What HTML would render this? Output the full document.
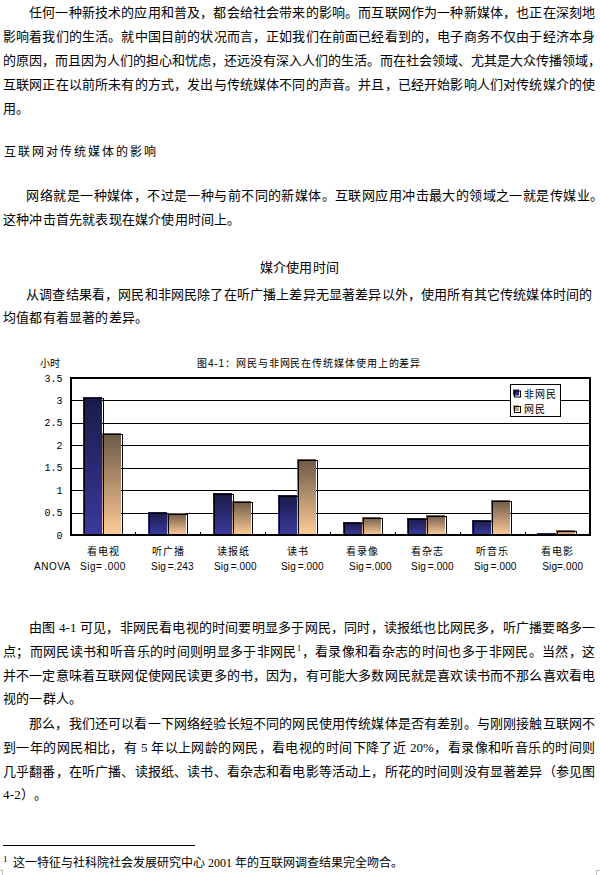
<!DOCTYPE html>
<html lang="zh-CN"><head><meta charset="utf-8"><style>
html,body{margin:0;padding:0;background:#fff;}
body{text-spacing-trim:space-all;width:600px;height:875px;position:relative;overflow:hidden;font-family:"Liberation Serif",serif;color:#000;}
.l{position:absolute;white-space:nowrap;font-size:13px;line-height:24px;font-weight:500;letter-spacing:0.2px;}
.ind{display:inline-block;width:26px;}
sup{font-size:9px;line-height:0;vertical-align:5px;font-weight:normal;}
.chart{position:absolute;left:0;top:0;}
.ct{font-family:"Liberation Sans",sans-serif;font-size:10px;}
.tb{font-weight:bold;}
.yt{font-family:"Liberation Mono",monospace;font-size:10px;}
.st{font-family:"Liberation Sans",sans-serif;font-size:10px;}
</style></head><body>
<svg class="chart" width="600" height="875" viewBox="0 0 600 875">
<defs><linearGradient id="gb" x1="0" y1="0" x2="0" y2="1"><stop offset="0" stop-color="#1a1a48"/><stop offset="1" stop-color="#3a3a9e"/></linearGradient><linearGradient id="gt" x1="0" y1="0" x2="0" y2="1"><stop offset="0" stop-color="#6b5846"/><stop offset="1" stop-color="#ffcc99"/></linearGradient></defs>
<rect x="72" y="513" width="517" height="1" fill="#000"/>
<rect x="72" y="490" width="517" height="1" fill="#000"/>
<rect x="72" y="468" width="517" height="1" fill="#000"/>
<rect x="72" y="445" width="517" height="1" fill="#000"/>
<rect x="72" y="423" width="517" height="1" fill="#000"/>
<rect x="72" y="400" width="517" height="1" fill="#000"/>
<rect x="83" y="397" width="19" height="138" fill="url(#gb)"/>
<rect x="102" y="433" width="19" height="102" fill="url(#gt)"/>
<rect x="148" y="512" width="19" height="23" fill="url(#gb)"/>
<rect x="167" y="513" width="19" height="22" fill="url(#gt)"/>
<rect x="213" y="493" width="19" height="42" fill="url(#gb)"/>
<rect x="232" y="501" width="19" height="34" fill="url(#gt)"/>
<rect x="278" y="495" width="19" height="40" fill="url(#gb)"/>
<rect x="297" y="459" width="19" height="76" fill="url(#gt)"/>
<rect x="343" y="522" width="19" height="13" fill="url(#gb)"/>
<rect x="362" y="517" width="19" height="18" fill="url(#gt)"/>
<rect x="407" y="518" width="19" height="17" fill="url(#gb)"/>
<rect x="426" y="515" width="19" height="20" fill="url(#gt)"/>
<rect x="472" y="520" width="19" height="15" fill="url(#gb)"/>
<rect x="491" y="500" width="19" height="35" fill="url(#gt)"/>
<rect x="537" y="533" width="19" height="2" fill="url(#gb)"/>
<rect x="556" y="530" width="19" height="5" fill="url(#gt)"/>
<rect x="84.5" y="398.5" width="19" height="136.5" fill="none" stroke="#000" stroke-width="1"/>
<rect x="103.5" y="434.5" width="19" height="100.5" fill="none" stroke="#000" stroke-width="1"/>
<rect x="149.5" y="513.5" width="19" height="21.5" fill="none" stroke="#000" stroke-width="1"/>
<rect x="168.5" y="514.5" width="19" height="20.5" fill="none" stroke="#000" stroke-width="1"/>
<rect x="214.5" y="494.5" width="19" height="40.5" fill="none" stroke="#000" stroke-width="1"/>
<rect x="233.5" y="502.5" width="19" height="32.5" fill="none" stroke="#000" stroke-width="1"/>
<rect x="279.5" y="496.5" width="19" height="38.5" fill="none" stroke="#000" stroke-width="1"/>
<rect x="298.5" y="460.5" width="19" height="74.5" fill="none" stroke="#000" stroke-width="1"/>
<rect x="344.5" y="523.5" width="19" height="11.5" fill="none" stroke="#000" stroke-width="1"/>
<rect x="363.5" y="518.5" width="19" height="16.5" fill="none" stroke="#000" stroke-width="1"/>
<rect x="408.5" y="519.5" width="19" height="15.5" fill="none" stroke="#000" stroke-width="1"/>
<rect x="427.5" y="516.5" width="19" height="18.5" fill="none" stroke="#000" stroke-width="1"/>
<rect x="473.5" y="521.5" width="19" height="13.5" fill="none" stroke="#000" stroke-width="1"/>
<rect x="492.5" y="501.5" width="19" height="33.5" fill="none" stroke="#000" stroke-width="1"/>
<rect x="538.5" y="534.5" width="19" height="0.5" fill="none" stroke="#000" stroke-width="1"/>
<rect x="557.5" y="531.5" width="19" height="3.5" fill="none" stroke="#000" stroke-width="1"/>
<rect x="135" y="532" width="1" height="2" fill="#000"/>
<rect x="200" y="532" width="1" height="2" fill="#000"/>
<rect x="265" y="532" width="1" height="2" fill="#000"/>
<rect x="330" y="532" width="1" height="2" fill="#000"/>
<rect x="395" y="532" width="1" height="2" fill="#000"/>
<rect x="460" y="532" width="1" height="2" fill="#000"/>
<rect x="525" y="532" width="1" height="2" fill="#000"/>
<rect x="71" y="378" width="519" height="157" fill="none" stroke="#000" stroke-width="2"/>
<rect x="510.5" y="384.5" width="50" height="32" fill="#fff" stroke="#000" stroke-width="1"/>
<rect x="513" y="389.5" width="6" height="6" fill="#2a2a80"/><rect x="514.5" y="391" width="6" height="6" fill="none" stroke="#000" stroke-width="1"/>
<rect x="513" y="405" width="6" height="6" fill="#c8a078"/><rect x="514.5" y="406.5" width="6" height="6" fill="none" stroke="#000" stroke-width="1"/>
<text x="524" y="397.5" class="ct" letter-spacing="1">非网民</text>
<text x="524" y="413" class="ct" letter-spacing="1">网民</text>
<text x="62.5" y="538.5" class="yt" text-anchor="end">0</text>
<text x="62.5" y="516.1" class="yt" text-anchor="end">0.5</text>
<text x="62.5" y="493.6" class="yt" text-anchor="end">1</text>
<text x="62.5" y="471.2" class="yt" text-anchor="end">1.5</text>
<text x="62.5" y="448.8" class="yt" text-anchor="end">2</text>
<text x="62.5" y="426.4" class="yt" text-anchor="end">2.5</text>
<text x="62.5" y="403.9" class="yt" text-anchor="end">3</text>
<text x="62.5" y="381.5" class="yt" text-anchor="end">3.5</text>
<text x="40" y="366.5" class="ct">小时</text>
<text x="197" y="367" class="ct" letter-spacing="0.9">图4-1：网民与非网民在传统媒体使用上的差异</text>
<text x="103.4" y="555" class="ct" text-anchor="middle" letter-spacing="1">看电视</text>
<text x="80.0" y="570.3" class="st" letter-spacing="0.5" word-spacing="-1.2">Sig= .000</text>
<text x="168.3" y="555" class="ct" text-anchor="middle" letter-spacing="1">听广播</text>
<text x="151.1" y="570.3" class="st" letter-spacing="0.15" word-spacing="-1.2">Sig =.243</text>
<text x="233.2" y="555" class="ct" text-anchor="middle" letter-spacing="1">读报纸</text>
<text x="214.0" y="570.3" class="st" letter-spacing="0.15" word-spacing="-1.2">Sig =.000</text>
<text x="298.1" y="555" class="ct" text-anchor="middle" letter-spacing="1">读书</text>
<text x="281.0" y="570.3" class="st" letter-spacing="0.15" word-spacing="-1.2">Sig =.000</text>
<text x="362.9" y="555" class="ct" text-anchor="middle" letter-spacing="1">看录像</text>
<text x="349.1" y="570.3" class="st" letter-spacing="0.15" word-spacing="-1.2">Sig =.000</text>
<text x="427.8" y="555" class="ct" text-anchor="middle" letter-spacing="1">看杂志</text>
<text x="411.1" y="570.3" class="st" letter-spacing="0.15" word-spacing="-1.2">Sig =.000</text>
<text x="492.7" y="555" class="ct" text-anchor="middle" letter-spacing="1">听音乐</text>
<text x="473.9" y="570.3" class="st" letter-spacing="0.15" word-spacing="-1.2">Sig =.000</text>
<text x="557.6" y="555" class="ct" text-anchor="middle" letter-spacing="1">看电影</text>
<text x="542.2" y="570.3" class="st" letter-spacing="0.15" word-spacing="-1.2">Sig=.000</text>
<text x="34" y="570.3" class="st" letter-spacing="0.5">ANOVA</text>
<rect x="3" y="845" width="192" height="1" fill="#000"/>
<path d="M0 870.5H2.5V875" fill="none" stroke="#bbb" stroke-width="1"/>
<path d="M600 870.5H596.5V875" fill="none" stroke="#bbb" stroke-width="1"/>
</svg>
<div class="l" style="top:1px;left:3px;width:592px;text-align:justify;text-align-last:justify;letter-spacing:0;"><span class="ind"></span>任何一种新技术的应用和普及，都会给社会带来的影响。而互联网作为一种新媒体，也正在深刻地</div>
<div class="l" style="top:25px;left:3px;width:592px;text-align:justify;text-align-last:justify;letter-spacing:0;">影响着我们的生活。就中国目前的状况而言，正如我们在前面已经看到的，电子商务不仅由于经济本身</div>
<div class="l" style="top:49px;left:3px;width:592px;text-align:justify;text-align-last:justify;letter-spacing:0;">的原因，而且因为人们的担心和忧虑，还远没有深入人们的生活。而在社会领域、尤其是大众传播领域，</div>
<div class="l" style="top:73px;left:3px;width:592px;text-align:justify;text-align-last:justify;letter-spacing:0;">互联网正在以前所未有的方式，发出与传统媒体不同的声音。并且，已经开始影响人们对传统媒介的使</div>
<div class="l" style="top:97px;left:3px;">用。</div>
<div class="l" style="top:139.5px;left:4px;font-size:12px;letter-spacing:2px;">互联网对传统媒体的影响</div>
<div class="l" style="top:184px;left:Truepx;width:603px;text-align:justify;text-align-last:justify;letter-spacing:0;"><span class="ind"></span>网络就是一种媒体，不过是一种与前不同的新媒体。互联网应用冲击最大的领域之一就是传媒业。</div>
<div class="l" style="top:207.7px;left:3px;">这种冲击首先就表现在媒介使用时间上。</div>
<div class="l" style="top:256.3px;left:0px;text-align:center;width:599px;">媒介使用时间</div>
<div class="l" style="top:282.7px;left:Truepx;width:592px;text-align:justify;text-align-last:justify;letter-spacing:0;"><span class="ind"></span>从调查结果看，网民和非网民除了在听广播上差异无显著差异以外，使用所有其它传统媒体时间的</div>
<div class="l" style="top:305.6px;left:3px;">均值都有着显著的差异。</div>
<div class="l" style="top:616.3px;left:3px;width:592px;text-align:justify;text-align-last:justify;letter-spacing:0;"><span class="ind"></span>由图 4-1 可见，非网民看电视的时间要明显多于网民，同时，读报纸也比网民多，听广播要略多一</div>
<div class="l" style="top:640.3px;left:3px;width:592px;text-align:justify;text-align-last:justify;letter-spacing:0;">点；而网民读书和听音乐的时间则明显多于非网民<sup>1</sup>，看录像和看杂志的时间也多于非网民。当然，这</div>
<div class="l" style="top:663.7px;left:3px;width:592px;text-align:justify;text-align-last:justify;letter-spacing:0;">并不一定意味着互联网促使网民读更多的书，因为，有可能大多数网民就是喜欢读书而不那么喜欢看电</div>
<div class="l" style="top:687.1px;left:3px;">视的一群人。</div>
<div class="l" style="top:712.2px;left:3px;width:592px;text-align:justify;text-align-last:justify;letter-spacing:0;"><span class="ind"></span>那么，我们还可以看一下网络经验长短不同的网民使用传统媒体是否有差别。与刚刚接触互联网不</div>
<div class="l" style="top:735.9px;left:3px;width:592px;text-align:justify;text-align-last:justify;letter-spacing:0;">到一年的网民相比，有 5 年以上网龄的网民，看电视的时间下降了近 20%，看录像和听音乐的时间则</div>
<div class="l" style="top:759.5px;left:3px;width:592px;text-align:justify;text-align-last:justify;letter-spacing:0;">几乎翻番，在听广播、读报纸、读书、看杂志和看电影等活动上，所花的时间则没有显著差异（参见图</div>
<div class="l" style="top:783px;left:3px;">4-2）。</div>
<div class="l" style="top:851px;left:3px;font-size:12px;letter-spacing:0;"><sup class="fn">1</sup><span style="display:inline-block;width:5.5px"></span>这一特征与社科院社会发展研究中心 2001 年的互联网调查结果完全吻合。</div>
</body></html>
